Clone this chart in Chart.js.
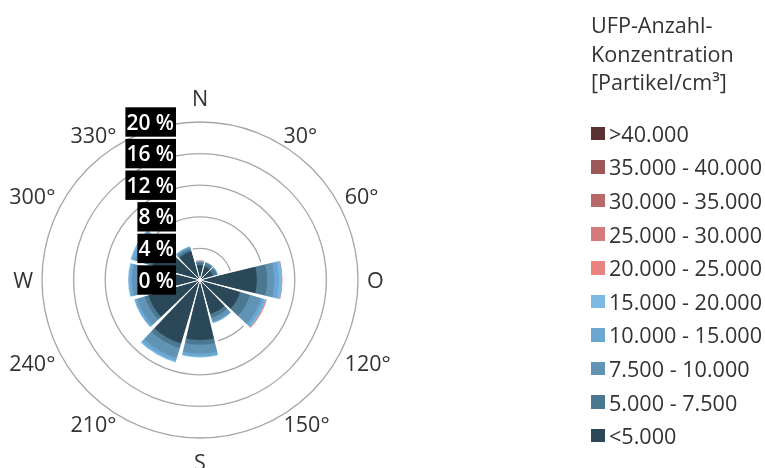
<!DOCTYPE html>
<html>
<head>
<meta charset="utf-8">
<script src="https://cdn.jsdelivr.net/npm/chart.js@4.4.1/dist/chart.umd.min.js"></script>
<style>
  html, body { margin: 0; padding: 0; background: #fff; }
  body { width: 765px; height: 468px; position: relative; overflow: hidden;
         font-family: "Open Sans", sans-serif; color: #333; }
  #rose { position: absolute; left: 0; top: 0; }
  #legend { position: absolute; left: 591px; top: 11px; font-size: 21.6px; white-space: nowrap; }
  #legend .title { line-height: 28.5px; }
  #legend ul { list-style: none; margin: 0; padding: 0; position: absolute; top: 105.6px; left: 0; }
  #legend li { display: flex; align-items: center; height: 33.6px; }
  #legend li .box { width: 13.5px; height: 13.5px; margin-right: 4.5px; flex: none; }
</style>
</head>
<body>
<canvas id="rose" width="765" height="468"></canvas>
<div id="legend">
  <div class="title">UFP-Anzahl-<br>Konzentration<br>[Partikel/cm³]</div>
  <ul id="legendItems"></ul>
</div>
<script>
// wind direction sectors, 30° wide, clockwise from north
const directions = ['N', '30°', '60°', 'O', '120°', '150°', 'S', '210°', '240°', 'W', '300°', '330°'];
const sectorWidth = 30;
const gapAngle = 3;

// concentration classes, innermost ring first
const classLabels = ['<5.000', '5.000 - 7.500', '7.500 - 10.000', '10.000 - 15.000', '15.000 - 20.000',
                     '20.000 - 25.000', '25.000 - 30.000', '30.000 - 35.000', '35.000 - 40.000', '>40.000'];
const classColors = ['#2b4859', '#4a7891', '#6193b5', '#6ba7d1', '#7bb9e2',
                     '#e8837f', '#d47a7a', '#b86868', '#9c5858', '#5a3131'];

// frequency in % per sector and class
const below5000    = [1.9, 1.8, 1.7, 7.2, 5.3, 4.5, 7.6, 8.4, 6.8, 6.5, 6.3, 3.8];
const c5000_7500   = [0.3, 0.4, 0.5, 1.3, 1.3, 0.5, 0.6, 0.6, 0.5, 1.0, 1.0, 0.3];
const c7500_10000  = [0.1, 0.1, 0.1, 0.9, 1.5, 0.5, 1.1, 1.3, 1.0, 1.1, 1.3, 0.2];
const c10000_15000 = [0.05, 0.05, 0.05, 0.6, 0.4, 0.15, 0.35, 0.4, 0.3, 0.3, 0.4, 0.1];
const c15000_20000 = [0.05, 0.03, 0.02, 0.4, 0.2, 0.05, 0.15, 0.2, 0.1, 0.2, 0.2, 0.05];
const c20000_25000 = [0.1, 0, 0, 0.05, 0.08, 0, 0, 0, 0, 0, 0, 0];
const c25000_30000 = [0, 0, 0, 0, 0.04, 0, 0, 0, 0, 0, 0, 0];
const c30000_35000 = [0, 0, 0, 0, 0, 0, 0, 0, 0, 0, 0, 0];
const c35000_40000 = [0, 0, 0, 0, 0, 0, 0, 0, 0, 0, 0, 0];
const above40000   = [0, 0, 0, 0, 0, 0, 0, 0, 0, 0, 0, 0];

const classes = [below5000, c5000_7500, c7500_10000, c10000_15000, c15000_20000,
                 c20000_25000, c25000_30000, c30000_35000, c35000_40000, above40000];

const tickStep = 4;
const tickMax = 20;

// stacked rings: each dataset reaches up to the running sum,
// the first (innermost) dataset is painted last and lies on top
let running = directions.map(() => 0);
const datasets = classes.map((values, k) => {
    running = running.map((s, i) => s + values[i]);
    return {
        label: classLabels[k],
        data: running.map((s, i) => (values[i] > 0 ? s : 0)),
        backgroundColor: classColors[k],
        borderWidth: 0
    };
});
const totals = running.slice();

const roseDecor = {
    id: 'roseDecor',
    afterDatasetsDraw(chart) {
        const scale = chart.scales.r;
        const ctx = chart.ctx;
        const cx = scale.xCenter;
        const cy = scale.yCenter;
        const rad = Math.PI / 180;

        // white gaps between neighbouring sectors
        ctx.save();
        ctx.fillStyle = '#fff';
        ctx.strokeStyle = '#fff';
        ctx.lineWidth = 1;
        for (let i = 0; i < directions.length; i++) {
            const j = (i + 1) % directions.length;
            const r = scale.getDistanceFromCenterForValue(Math.max(totals[i], totals[j])) + 2;
            const a = (i * sectorWidth + sectorWidth / 2 - 90) * rad;
            const h = gapAngle / 2 * rad;
            ctx.beginPath();
            ctx.moveTo(cx, cy);
            ctx.lineTo(cx + r * Math.cos(a - h), cy + r * Math.sin(a - h));
            ctx.lineTo(cx + r * Math.cos(a + h), cy + r * Math.sin(a + h));
            ctx.closePath();
            ctx.fill();
            ctx.beginPath();
            ctx.moveTo(cx, cy);
            ctx.lineTo(cx + r * Math.cos(a), cy + r * Math.sin(a));
            ctx.stroke();
        }

        // percentage labels on black boxes, left of the north axis
        ctx.font = '600 21px "Open Sans"';
        ctx.textAlign = 'right';
        ctx.textBaseline = 'alphabetic';
        scale.ticks.forEach(t => {
            const y = cy - scale.getDistanceFromCenterForValue(t.value);
            const txt = t.value + ' %';
            const w = ctx.measureText(txt).width;
            const right = cx - 24;
            ctx.fillStyle = '#000';
            ctx.fillRect(right - w - 3, y - 14.7, w + 3, 29.4);
            ctx.fillStyle = '#fff';
            ctx.fillText(txt, right - 2, y + 7.5);
        });

        // compass labels
        const R = 167;
        ctx.font = '21.5px "Open Sans"';
        ctx.fillStyle = '#333';
        directions.forEach((label, i) => {
            const deg = i * sectorWidth;
            const x = cx + R * Math.sin(deg * rad);
            let y = cy - R * Math.cos(deg * rad) + 7.7;
            if (deg === 0) {
                ctx.textAlign = 'center';
                y = cy - R - 7;
            } else if (deg === 180) {
                ctx.textAlign = 'center';
                y = cy + R + 23;
            } else {
                ctx.textAlign = deg < 180 ? 'left' : 'right';
            }
            ctx.fillText(label, x, y);
        });
        ctx.restore();
    }
};

new Chart(document.getElementById('rose'), {
    type: 'polarArea',
    data: { labels: directions, datasets: datasets },
    options: {
        responsive: false,
        animation: false,
        devicePixelRatio: 1,
        layout: { padding: { top: 122, bottom: 30, left: 0, right: 365 } },
        plugins: {
            legend: { display: false },
            tooltip: { enabled: false }
        },
        scales: {
            r: {
                min: 0,
                max: tickMax,
                startAngle: -sectorWidth / 2,
                ticks: { display: false, stepSize: tickStep },
                grid: { color: '#a6a6a6', lineWidth: 1.3 },
                angleLines: { display: false },
                pointLabels: { display: false }
            }
        }
    },
    plugins: [roseDecor]
});

// legend, highest class on top
const list = document.getElementById('legendItems');
for (let k = classLabels.length - 1; k >= 0; k--) {
    const li = document.createElement('li');
    const box = document.createElement('span');
    box.className = 'box';
    box.style.background = classColors[k];
    li.appendChild(box);
    li.appendChild(document.createTextNode(classLabels[k]));
    list.appendChild(li);
}
</script>
</body>
</html>
